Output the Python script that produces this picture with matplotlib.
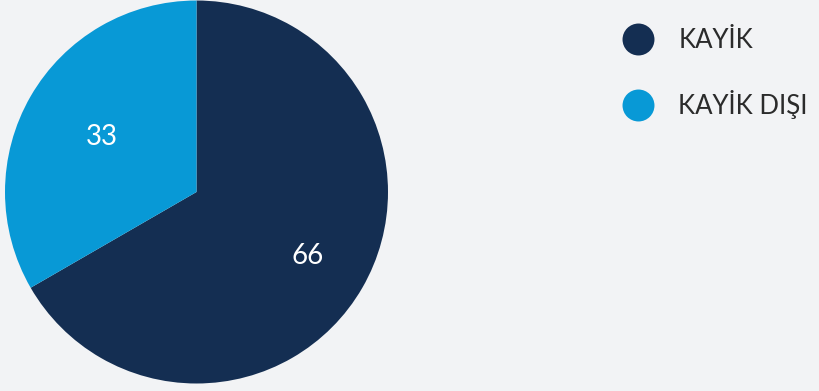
import numpy as np
import matplotlib.pyplot as plt
from matplotlib.lines import Line2D

labels = ['KAYİK', 'KAYİK DIŞI']
values = [66, 33]
colors = ['#142e52', '#0899d6']
label_radius = [0.67, 0.57]

plt.rcParams['font.family'] = ['Lato', 'DejaVu Sans']

fig = plt.figure(figsize=(8.2, 3.91), dpi=100)
fig.patch.set_facecolor('#f2f3f5')

cx, cy, r = 196.5, 199.0, 191.5
ax = fig.add_axes([(cx - r) / 820, (cy - r) / 391, 2 * r / 820, 2 * r / 391])
ax.set_facecolor('none')
wedges, _ = ax.pie(values, colors=colors, startangle=90, counterclock=False,
                   radius=1, wedgeprops=dict(linewidth=0))
ax.set_xlim(-1, 1)
ax.set_ylim(-1, 1)
ax.set_aspect('equal')
ax.axis('off')

for w, v, lr in zip(wedges, values, label_radius):
    ang = np.deg2rad((w.theta1 + w.theta2) / 2)
    ax.text(lr * np.cos(ang), lr * np.sin(ang), str(v), color='white',
            fontsize=20, fontweight='normal', ha='center', va='center')

handles = [Line2D([], [], marker='o', linestyle='none', markersize=23,
                  markerfacecolor=c, markeredgewidth=0) for c in colors]
fig.legend(handles, labels, loc='upper left', bbox_to_anchor=(606 / 820, 1 - 10 / 391),
           frameon=False, labelspacing=1.45, handletextpad=1.02,
           handlelength=1.1, borderaxespad=0.3, labelcolor='#2b2b2b',
           prop=dict(weight='normal', size=18.5))

fig.savefig('out.png', dpi=100, facecolor=fig.get_facecolor())
